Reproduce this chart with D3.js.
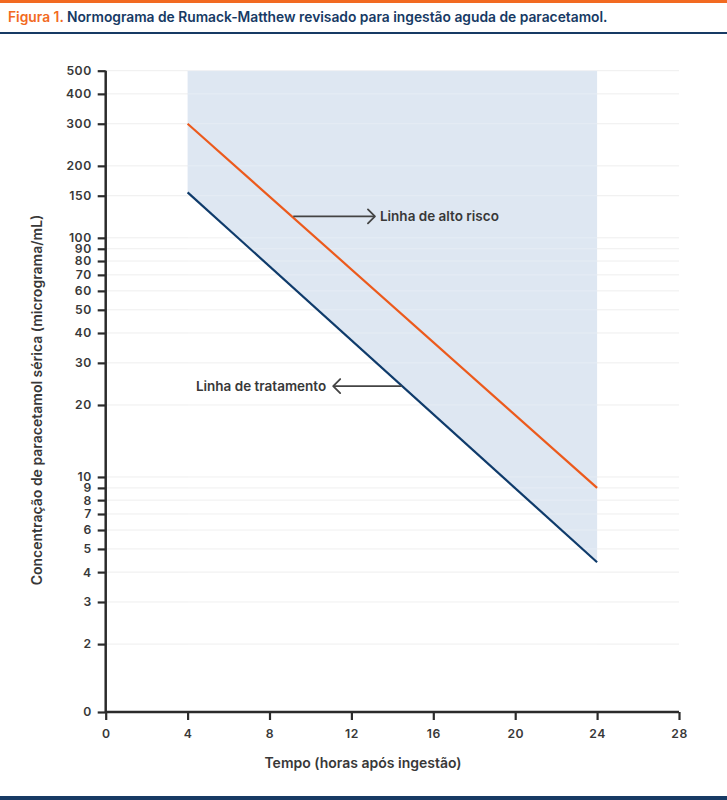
<!DOCTYPE html>
<html><head><meta charset="utf-8">
<script src="https://cdn.jsdelivr.net/npm/d3@7"></script>
<style>
html,body{margin:0;padding:0;background:#fff;}
svg{display:block;font-family:Inter,"Noto Sans",sans-serif;}
</style></head>
<body>
<svg id="chart" width="727" height="800"></svg>
<script>
// ---- data ----
const titleLead = "Figura 1.";
const titleText = " Normograma de Rumack-Matthew revisado para ingestão aguda de paracetamol.";
const xLabel = "Tempo (horas após ingestão)";
const yLabel = "Concentração de paracetamol sérica (micrograma/mL)";
const xTicks = [0, 4, 8, 12, 16, 20, 24, 28];
const yAxisFloor = 1.04;           // bottom of the broken log axis, labelled "0"
const yTicks = [yAxisFloor, 2, 3, 4, 5, 6, 7, 8, 9, 10, 20, 30, 40, 50, 60, 70, 80, 90, 100, 150, 200, 300, 400, 500];
const yTickLabels = ["0", "2", "3", "4", "5", "6", "7", "8", "9", "10", "20", "30", "40", "50", "60", "70", "80", "90", "100", "150", "200", "300", "400", "500"];
const hours = [4, 24];
const highRisk = [300, 9.0];       // Linha de alto risco
const treatment = [155, 4.4];      // Linha de tratamento
const shadeTop = 500;
const annHigh = {label: "Linha de alto risco", fromHour: 9.16, toHour: 13.15, value: 123};
const annTreat = {label: "Linha de tratamento", fromHour: 14.45, toHour: 11.11, value: 24};

// ---- layout ----
const svg = d3.select("#chart");
const W = 727, H = 800;
const x = d3.scaleLinear().domain([0, 28]).range([105.7, 679]);
const y = d3.scaleLog().domain([yAxisFloor, 500]).range([712, 70.7]);

const ORANGE = "#ec5a1c", NAVY = "#0f3b6b", TEXT = "#383838", AXIS = "#2b2b2b";

// header
svg.append("rect").attr("x", 0).attr("y", 0).attr("width", W).attr("height", 3).attr("fill", "#f26a21");
const t = svg.append("text").attr("x", 8).attr("y", 22).attr("font-size", 13.8).attr("font-weight", 600);
t.append("tspan").attr("fill", "#f26a21").text(titleLead);
t.append("tspan").attr("fill", "#173a64").text(titleText);
svg.append("rect").attr("x", 0).attr("y", 32).attr("width", W).attr("height", 2).attr("fill", "#173a64");
svg.append("rect").attr("x", 0).attr("y", 796).attr("width", W).attr("height", 4).attr("fill", "#173a64");

// grid
svg.append("g").selectAll("line").data(yTicks.slice(1)).join("line")
  .attr("x1", x(0)).attr("x2", x(28))
  .attr("y1", d => y(d)).attr("y2", d => y(d))
  .attr("stroke", "#eeeeee").attr("stroke-width", 1);

// shaded region between treatment line and top
const pts = hours.map((h, i) => ({h, lo: treatment[i]}));
svg.append("path").datum(pts)
  .attr("d", d3.area().x(d => x(d.h)).y0(d => y(d.lo)).y1(() => y(shadeTop)))
  .attr("fill", "#dee7f2");

// faint grid over shade
svg.append("g").selectAll("line").data(yTicks.slice(1)).join("line")
  .attr("x1", x(hours[0])).attr("x2", x(hours[1]))
  .attr("y1", d => y(d)).attr("y2", d => y(d))
  .attr("stroke", "#ffffff").attr("stroke-opacity", 0.25).attr("stroke-width", 1);

// lines
const line = d3.line().x(d => x(d[0])).y(d => y(d[1]));
svg.append("path").datum(hours.map((h, i) => [h, highRisk[i]]))
  .attr("d", line).attr("fill", "none").attr("stroke", ORANGE).attr("stroke-width", 2.2);
svg.append("path").datum(hours.map((h, i) => [h, treatment[i]]))
  .attr("d", line).attr("fill", "none").attr("stroke", NAVY).attr("stroke-width", 2.2);

// axes
const yAxis = d3.axisLeft(y).tickValues(yTicks).tickFormat((d, i) => yTickLabels[i]).tickSize(8).tickPadding(6);
const gy = svg.append("g").attr("transform", `translate(${x(0)},0)`).call(yAxis);
const xAxis = d3.axisBottom(x).tickValues(xTicks).tickFormat(d3.format("d")).tickSize(8).tickPadding(6);
const gx = svg.append("g").attr("transform", `translate(0,${y(yAxisFloor)})`).call(xAxis);
[gx, gy].forEach(g => {
  g.select(".domain").attr("stroke", AXIS).attr("stroke-width", 2.5);
  g.selectAll(".tick line").attr("stroke", AXIS).attr("stroke-width", 2.2);
  g.selectAll(".tick text").attr("fill", TEXT).attr("font-size", 12.2).attr("font-weight", 600)
    .attr("letter-spacing", "0.5px")
    .attr("font-family", "Inter, 'Noto Sans', sans-serif");
});
gy.select(".domain").attr("d", `M0,${y(500)}V${y(yAxisFloor)}`);
gx.select(".domain").attr("d", `M${x(0)},0H${x(28)}`);
gx.selectAll(".tick text").attr("dy", "0.95em");

// axis titles
svg.append("text").attr("x", 363).attr("y", 768).attr("text-anchor", "middle")
  .attr("font-size", 14).attr("font-weight", 600).attr("fill", TEXT).text(xLabel);
svg.append("text").attr("transform", `translate(42,400) rotate(-90)`).attr("text-anchor", "middle")
  .attr("font-size", 14).attr("font-weight", 600).attr("fill", TEXT).text(yLabel);

// annotations
function arrow(a, dir) {
  const x1 = x(a.fromHour), x2 = x(a.toHour), yy = y(a.value);
  const g = svg.append("g").attr("stroke", "#444").attr("stroke-width", 1.8).attr("fill", "none");
  g.append("line").attr("x1", x1).attr("x2", x2).attr("y1", yy).attr("y2", yy);
  g.append("path").attr("d", `M${x2 - dir * 7},${yy - 7}L${x2},${yy}L${x2 - dir * 7},${yy + 7}`)
    .attr("stroke-linecap", "round").attr("stroke-linejoin", "round");
  return {x2, yy};
}
const a1 = arrow(annHigh, 1);
svg.append("text").attr("x", a1.x2 + 5).attr("y", a1.yy).attr("dy", "0.35em")
  .attr("font-size", 13.5).attr("font-weight", 600).attr("fill", TEXT).text(annHigh.label);
const a2 = arrow(annTreat, -1);
svg.append("text").attr("x", a2.x2 - 7).attr("y", a2.yy).attr("dy", "0.35em").attr("text-anchor", "end")
  .attr("font-size", 13.5).attr("font-weight", 600).attr("fill", TEXT).text(annTreat.label);
</script>
</body></html>
